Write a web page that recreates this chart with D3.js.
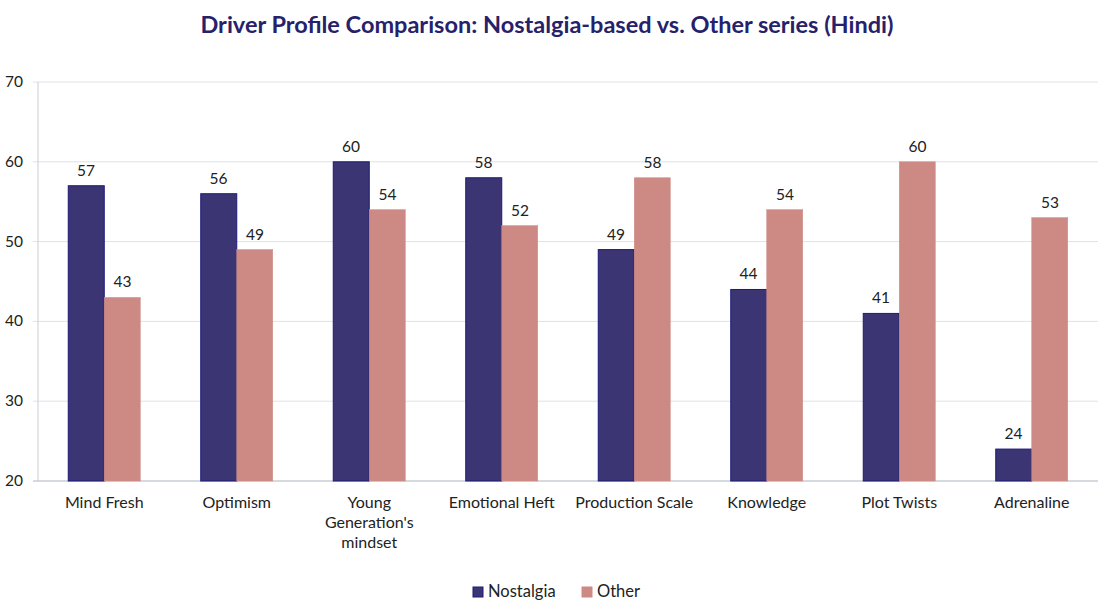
<!DOCTYPE html>
<html><head><meta charset="utf-8">
<script src="https://cdn.jsdelivr.net/npm/d3@7"></script>
<style>
body{margin:0;background:#fff;}
text{font-family:"Source Sans Pro","Lato","Noto Sans",sans-serif;}
</style></head>
<body><svg id="c" width="1110" height="608"></svg>
<script>
const categories = ["Mind Fresh","Optimism","Young Generation's mindset","Emotional Heft","Production Scale","Knowledge","Plot Twists","Adrenaline"];
const seriesNames = ["Nostalgia","Other"];
const nostalgia = [57,56,60,58,49,44,41,24];
const other = [43,49,54,52,58,54,60,53];
const yTicks = [20,30,40,50,60,70];
const colors = ["#3b3573","#cd8a84"];
const strokes = ["#1c1a7a","#cd8a84"];

(function(){
const svg = d3.select("#c");
const mL = 38, mR = 1098, mT = 82, mB = 481;
const x = d3.scaleBand().domain(categories).range([mL, mR]);
const y = d3.scaleLinear().domain([20,70]).range([mB, mT]);
const barW = 36.5;

svg.append("text").attr("x", 547).attr("y", 33).attr("text-anchor","middle")
  .attr("font-size", 23.5).attr("font-weight","bold").attr("fill","#26216b")
  .text("Driver Profile Comparison: Nostalgia-based vs. Other series (Hindi)");

svg.append("g").selectAll("line").data(yTicks).join("line")
  .attr("x1", 33).attr("x2", mR).attr("y1", d=>y(d)).attr("y2", d=>y(d))
  .attr("stroke", d=> d===20 ? "#c8ccd2" : "#dfe2e8").attr("stroke-width", d=> d===20?1.5:1);
svg.append("line").attr("x1", mL).attr("x2", mL).attr("y1", mT).attr("y2", mB)
  .attr("stroke","#c8ccd2");
svg.append("g").selectAll("text").data(yTicks).join("text")
  .attr("x", 5).attr("y", d=>y(d)+5).attr("font-size", 15.5).attr("fill","#222")
  .text(d=>d);

const data = [nostalgia, other];
data.forEach((vals, si) => {
  const g = svg.append("g");
  g.selectAll("rect").data(vals).join("rect")
    .attr("x", (d,i)=> x(categories[i]) + x.bandwidth()/2 - barW + si*barW + (si===0?0.5:0))
    .attr("width", barW - 0.5)
    .attr("y", d=>y(d)).attr("height", d=>mB - y(d))
    .attr("fill", colors[si]).attr("stroke", strokes[si]).attr("stroke-width", si===0?1:0.5);
  g.selectAll("text").data(vals).join("text")
    .attr("x", (d,i)=> x(categories[i]) + x.bandwidth()/2 - barW/2 + si*barW)
    .attr("y", d=>y(d) - 10).attr("text-anchor","middle").attr("font-size", 15.5).attr("fill","#222")
    .text(d=>d);
});

const xLabelLines = {"Young Generation's mindset":["Young","Generation's","mindset"]};
categories.forEach(c => {
  const lines = xLabelLines[c] || [c];
  const t = svg.append("text").attr("text-anchor","middle").attr("font-size", 16).attr("fill","#222");
  lines.forEach((l, i) => t.append("tspan").attr("x", x(c)+x.bandwidth()/2).attr("y", 508 + i*20).text(l));
});

const lg = svg.append("g");
const items = [{x:473}, {x:582}];
items.forEach((it, i) => {
  lg.append("rect").attr("x", it.x).attr("y", 587).attr("width", 10).attr("height", 10)
    .attr("fill", colors[i]).attr("stroke", strokes[i]);
  lg.append("text").attr("x", it.x + 15).attr("y", 597).attr("font-size", 16.5).attr("fill","#222").text(seriesNames[i]);
});
})();
</script></body></html>
